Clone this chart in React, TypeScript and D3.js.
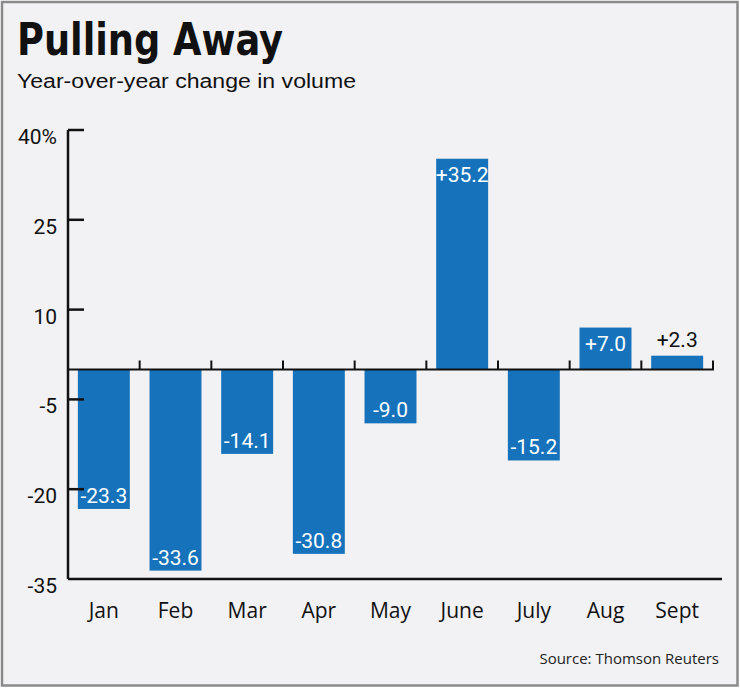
import React from "react";
import * as d3 from "d3";

const months = ["Jan", "Feb", "Mar", "Apr", "May", "June", "July", "Aug", "Sept"];
const changes = [-23.3, -33.6, -14.1, -30.8, -9.0, 35.2, -15.2, 7.0, 2.3];
const yTicks = [40, 25, 10, -5, -20];
const yTickLabels = ["40%", "25", "10", "-5", "-20", "-35"];
const yTickValues = [40, 25, 10, -5, -20, -35];

const W = 740;
const H = 688;
const BLUE = "#1572bb";
const CONDENSED = "'Liberation Sans Narrow', 'DejaVu Sans Condensed', 'Liberation Sans', sans-serif";
const LABEL_FONT = "Roboto, 'Liberation Sans', sans-serif";
const HUMANIST = "'Open Sans', 'Noto Sans', sans-serif";

const fmt = (v: number) => (v > 0 ? "+" : "") + v.toFixed(1);

export default function App() {
  const x = d3.scaleBand<string>().domain(months).range([68, 713]).paddingInner(0.275).paddingOuter(0.1375);
  const y = d3.scaleLinear().domain([-35, 40]).range([579, 130]);
  const y0 = y(0);
  const step = x.step();
  const gap = step * x.paddingInner();

  return (
    <svg width={W} height={H} style={{ position: "absolute", left: 0, top: 0 }}>
      <rect x={2} y={2} width={W - 4.5} height={H - 4.5} fill="#f2f2f4" stroke="#8a8a8a" strokeWidth={2.5} />

      <text x={17} y={55} fontFamily={CONDENSED} fontWeight="bold" fontSize={45} fill="#111"
        textLength={266} lengthAdjust="spacingAndGlyphs">Pulling Away</text>
      <text x={17} y={88} fontFamily="'Liberation Sans', Arial, sans-serif" fontSize={19.5} fill="#111"
        textLength={339} lengthAdjust="spacingAndGlyphs">Year-over-year change in volume</text>

      {/* bars */}
      {months.map((m, i) => {
        const v = changes[i];
        const top = Math.min(y(v), y0);
        const h = Math.abs(y(v) - y0);
        return <rect key={m} x={x(m)} y={top} width={x.bandwidth()} height={h} fill={BLUE} />;
      })}

      {/* value labels */}
      {months.map((m, i) => {
        const v = changes[i];
        const cx = (x(m) as number) + x.bandwidth() / 2;
        const small = Math.abs(y(v) - y0) < 24;
        let ty: number;
        if (small) ty = y(v) - 9;
        else if (v > 0) ty = y(v) + 23;
        else ty = y(v) - 6;
        return (
          <text key={m} x={cx} y={ty} textAnchor="middle" fontFamily={LABEL_FONT} fontSize={21}
            fill={small ? "#111" : "#fff"}>{fmt(v)}</text>
        );
      })}

      {/* y axis */}
      <line x1={68} x2={68} y1={y(40)} y2={y(-35)} stroke="#111" strokeWidth={2.5} />
      {yTicks.map((t) => (
        <line key={t} x1={68} x2={84} y1={y(t)} y2={y(t)} stroke="#111" strokeWidth={2.5} />
      ))}
      {yTickValues.map((t, i) => (
        <text key={t} x={57} y={y(t) + 14} textAnchor="end" fontFamily={LABEL_FONT} fontSize={21} fill="#111">
          {yTickLabels[i]}
        </text>
      ))}

      {/* bottom axis */}
      <line x1={68} x2={722} y1={y(-35)} y2={y(-35)} stroke="#111" strokeWidth={2.5} />

      {/* zero line with category separators */}
      <line x1={68} x2={714} y1={y0} y2={y0} stroke="#111" strokeWidth={2} />
      {months.map((m) => {
        const bx = (x(m) as number) + x.bandwidth() + gap / 2;
        return <line key={m} x1={bx} x2={bx} y1={y0} y2={y0 - 9} stroke="#111" strokeWidth={2} />;
      })}

      {/* category labels */}
      {months.map((m) => (
        <text key={m} x={(x(m) as number) + x.bandwidth() / 2} y={618} textAnchor="middle"
          fontFamily={HUMANIST} fontSize={21} fill="#111">{m}</text>
      ))}

      <text x={719} y={664} textAnchor="end" fontFamily={HUMANIST} fontSize={15} fill="#222">
        Source: Thomson Reuters
      </text>
    </svg>
  );
}
